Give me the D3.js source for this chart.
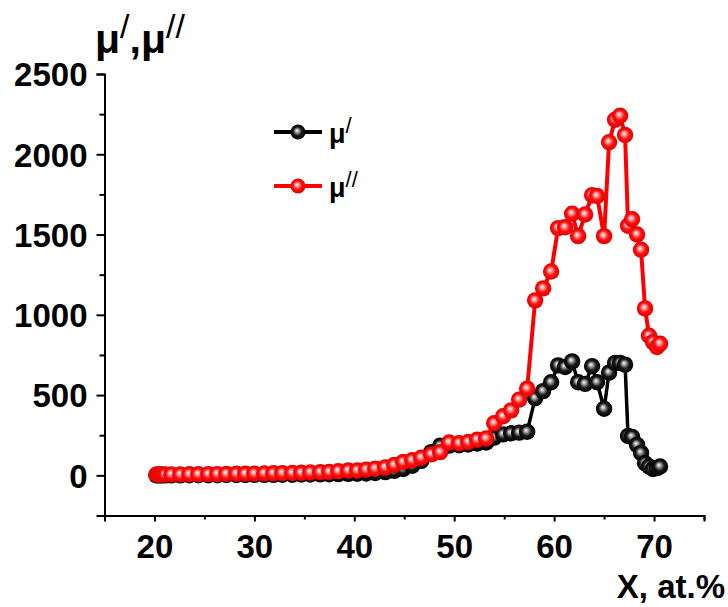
<!DOCTYPE html>
<html>
<head>
<meta charset="utf-8">
<script src="https://cdn.jsdelivr.net/npm/d3@7/dist/d3.min.js"></script>
<style>
  html, body { margin: 0; padding: 0; background: #fff; }
  svg { display: block; }
  text { font-family: "Liberation Sans", Arial, sans-serif; font-weight: bold; fill: #000; }
</style>
</head>
<body>
<svg id="chart" width="728" height="607"></svg>
<script>
// ---- data ----
const xValues = [
  20.2, 20.4, 20.6, 20.8, 21.1,
  21.7, 22.6, 23.5, 24.4, 25.4, 26.3, 27.2, 28.2, 29.1, 30.0,
  31.0, 31.9, 32.8, 33.8, 34.7, 35.6, 36.6, 37.5, 38.4, 39.4,
  40.3, 41.2, 42.1, 43.1, 44.0, 44.9, 45.8, 46.7, 47.7, 48.6,
  49.5, 50.5, 51.4, 52.3, 53.2, 54.0, 54.9, 55.7, 56.5, 57.3,
  58.1, 58.9, 59.7, 60.4, 61.1, 61.8, 62.4, 63.1, 63.8, 64.3,
  65.0, 65.5, 66.1, 66.6, 67.1, 67.4, 67.8, 68.3, 68.7, 69.1,
  69.5, 69.9, 70.3, 70.6
];
const muPrime = [
  0, 0, 0, 0, 0,
  0, 0, 1, 1, 1, 1, 2, 2, 2, 3,
  3, 3, 4, 4, 5, 5, 6, 7, 8, 9,
  10, 12, 15, 20, 28, 40, 60, 90, 145, 185,
  185, 188, 192, 198, 205, 235, 255, 262, 266, 272,
  480, 525, 580, 685, 675, 710, 580, 570, 680, 580,
  415, 640, 700, 700, 690, 245, 240, 190, 140, 75,
  55, 40, 45, 55
];
const muDoublePrime = [
  5, 5, 5, 5, 5,
  6, 6, 7, 7, 8, 8, 9, 10, 10, 11,
  12, 13, 14, 15, 16, 18, 20, 22, 26, 30,
  30, 36, 42, 50, 65, 83, 94, 110, 131, 145,
  205, 200, 208, 222, 230, 325, 368, 405, 472, 540,
  1090, 1165, 1270, 1540, 1545, 1630, 1490, 1625, 1745, 1740,
  1490, 2075, 2215, 2240, 2120, 1555, 1595, 1500, 1405, 1040,
  870, 830, 800, 820
];
const yMajorTicks = [0, 500, 1000, 1500, 2000, 2500];
const yMinorTicks = [-250, 250, 750, 1250, 1750, 2250];
const xMajorTicks = [20, 30, 40, 50, 60, 70];
const xMinorTicks = [15, 25, 35, 45, 55, 65, 75];
const seriesNames = ["μ", "μ"];
const seriesPrimes = ["/", "//"];
const seriesColors = ["#000000", "#ff0000"];

// ---- layout ----
const svg = d3.select("#chart");
const x = d3.scaleLinear().domain([15, 75]).range([104.5, 704]);
const y = d3.scaleLinear().domain([-250, 2500]).range([515.5, 74]);

// gradients for the sphere markers
const defs = svg.append("defs");
function sphereGrad(id, hi, mid, edge) {
  const g = defs.append("radialGradient").attr("id", id)
    .attr("cx", "50%").attr("cy", "50%").attr("r", "50%")
    .attr("fx", "42%").attr("fy", "40%");
  g.append("stop").attr("offset", "0%").attr("stop-color", "#ffffff");
  g.append("stop").attr("offset", "25%").attr("stop-color", hi);
  g.append("stop").attr("offset", "58%").attr("stop-color", mid);
  g.append("stop").attr("offset", "100%").attr("stop-color", edge);
}
sphereGrad("gBlack", "#a0a0a0", "#1a1a1a", "#000000");
sphereGrad("gRed", "#ff9a9a", "#ff1010", "#e00000");
const grads = ["url(#gBlack)", "url(#gRed)"];

// ---- axes ----
const yAxisMajor = d3.axisLeft(y).tickValues(yMajorTicks).tickSize(8).tickPadding(9).tickFormat(d3.format("d"));
const yAxisMinor = d3.axisLeft(y).tickValues(yMinorTicks).tickSize(5).tickFormat("");
const xAxisMajor = d3.axisBottom(x).tickValues(xMajorTicks).tickSize(6).tickPadding(13).tickFormat(d3.format("d"));
const xAxisMinor = d3.axisBottom(x).tickValues(xMinorTicks).tickSize(4).tickFormat("");

function styleAxis(g) {
  g.select(".domain").attr("stroke", "#000").attr("stroke-width", 2);
  g.selectAll(".tick line").attr("stroke", "#000").attr("stroke-width", 2);
  g.selectAll(".tick text").attr("font-size", 33).attr("font-family", "Liberation Sans, Arial, sans-serif").attr("font-weight", "bold").attr("fill", "#000");
}

const gy = svg.append("g").attr("transform", `translate(${x(15)},0)`).call(yAxisMajor).call(styleAxis);
svg.append("g").attr("transform", `translate(${x(15)},0)`).call(yAxisMinor).call(styleAxis).select(".domain").remove();
const gx = svg.append("g").attr("transform", `translate(0,${y(-250)})`).call(xAxisMajor).call(styleAxis);
svg.append("g").attr("transform", `translate(0,${y(-250)})`).call(xAxisMinor).call(styleAxis).select(".domain").remove();
gy.selectAll(".tick text").attr("dy", "0.36em");
gx.selectAll(".tick text").attr("dy", "0.71em");

// ---- series ----
const allSeries = [muPrime, muDoublePrime];
const lineWidths = [3.5, 4];
const line = d3.line().x(d => x(d[0])).y(d => y(d[1]));
allSeries.forEach((vals, i) => {
  const pts = xValues.map((xv, j) => [xv, vals[j]]);
  const g = svg.append("g");
  g.append("path").datum(pts).attr("d", line)
    .attr("fill", "none").attr("stroke", seriesColors[i]).attr("stroke-width", lineWidths[i])
    .attr("stroke-linejoin", "round");
  g.selectAll("circle").data(pts).enter().append("circle")
    .attr("cx", d => x(d[0])).attr("cy", d => y(d[1])).attr("r", 8.2)
    .attr("fill", grads[i]);
});

// ---- legend ----
const legendY = [132, 186];
allSeries.forEach((vals, i) => {
  const ly = legendY[i];
  svg.append("line").attr("x1", 274).attr("x2", 322).attr("y1", ly).attr("y2", ly)
    .attr("stroke", seriesColors[i]).attr("stroke-width", 4);
  svg.append("circle").attr("cx", 298).attr("cy", ly).attr("r", 7.5).attr("fill", grads[i]);
  const t = svg.append("text").attr("x", 329).attr("y", ly + 11).attr("font-size", 27);
  t.append("tspan").text(seriesNames[i]);
  t.append("tspan").attr("font-size", 22).attr("dy", -10).attr("font-weight", "normal").text(seriesPrimes[i]);
});

// ---- titles ----
const title = svg.append("text").attr("x", 95).attr("y", 53).attr("font-size", 41);
title.append("tspan").text("μ");
title.append("tspan").attr("font-size", 34).attr("font-weight", "normal").attr("dy", -15).text("/");
title.append("tspan").attr("dy", 15).text(",μ");
title.append("tspan").attr("font-size", 34).attr("font-weight", "normal").attr("dy", -15).text("//");

svg.append("text").attr("x", 725).attr("y", 598).attr("text-anchor", "end")
  .attr("font-size", 33).text("X, at.%");
</script>
</body>
</html>
